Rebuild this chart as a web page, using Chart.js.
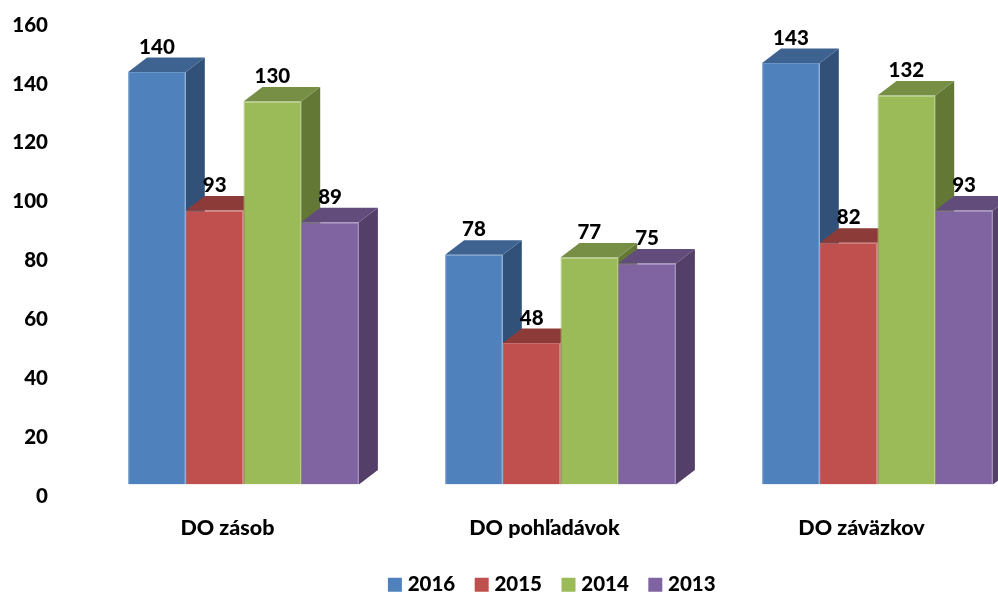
<!DOCTYPE html>
<html>
<head>
<meta charset="utf-8">
<title>DO</title>
<script src="https://cdn.jsdelivr.net/npm/chart.js@4"></script>
<style>
    html, body { margin: 0; padding: 0; background: #fff; overflow: hidden; width: 998px; height: 592px; }
    canvas { display: block; }
</style>
</head>
<body>
<canvas id="myChart" width="1108" height="605"></canvas>
<script>
const categories = ['DO zásob', 'DO pohľadávok', 'DO záväzkov'];
const seriesNames = ['2016', '2015', '2014', '2013'];
const values2016 = [140, 78, 143];
const values2015 = [93, 48, 82];
const values2014 = [130, 77, 132];
const values2013 = [89, 75, 93];
const tickStep = 20;
const tickMax = 160;

const frontColors = ['#4F81BD', '#C0504D', '#9BBB59', '#8064A2'];
const edgeColors = ['#6A95C9', '#CB6E6B', '#ABC774', '#9179B0'];
const topColors = ['#3E6390', '#8D3B39', '#778F45', '#624C7C'];
const sideColors = ['#325179', '#773130', '#647835', '#543F68'];

const FONT = { family: 'Lato, "Open Sans", sans-serif', size: 20.5, weight: '900' };
const DEPTH_X = 19;
const DEPTH_Y = 14.5;

// fake 3D: side and top faces go under the bars, left to right
const depthFaces = {
    id: 'depthFaces',
    beforeDatasetsDraw(chart) {
        const ctx = chart.ctx;
        const bars = [];
        chart.data.datasets.forEach((d, i) => {
            chart.getDatasetMeta(i).data.forEach(bar => bars.push({ bar, i }));
        });
        bars.sort((a, b) => a.bar.x - b.bar.x);
        bars.forEach(({ bar, i }) => {
            const left = bar.x - bar.width / 2;
            const right = bar.x + bar.width / 2;
            ctx.fillStyle = sideColors[i];
            ctx.beginPath();
            ctx.moveTo(right, bar.y);
            ctx.lineTo(right + DEPTH_X, bar.y - DEPTH_Y);
            ctx.lineTo(right + DEPTH_X, bar.base - DEPTH_Y);
            ctx.lineTo(right, bar.base);
            ctx.closePath();
            ctx.fill();
            ctx.fillStyle = topColors[i];
            ctx.beginPath();
            ctx.moveTo(left, bar.y);
            ctx.lineTo(left + DEPTH_X, bar.y - DEPTH_Y);
            ctx.lineTo(right + DEPTH_X, bar.y - DEPTH_Y);
            ctx.lineTo(right, bar.y);
            ctx.closePath();
            ctx.fill();
        });
    }
};

const valueLabels = {
    id: 'valueLabels',
    afterDatasetsDraw(chart) {
        const ctx = chart.ctx;
        ctx.save();
        ctx.font = `${FONT.weight} ${FONT.size}px ${FONT.family}`;
        ctx.fillStyle = '#000';
        ctx.textAlign = 'center';
        ctx.textBaseline = 'middle';
        chart.data.datasets.forEach((d, i) => {
            chart.getDatasetMeta(i).data.forEach((bar, j) => {
                ctx.fillText(d.data[j], bar.x, bar.y - 25);
            });
        });
        ctx.restore();
    }
};

const seriesValues = [values2016, values2015, values2014, values2013];

new Chart(document.getElementById('myChart').getContext('2d'), {
    type: 'bar',
    data: {
        labels: categories,
        datasets: seriesNames.map((name, i) => ({
            label: name,
            data: seriesValues[i],
            backgroundColor: frontColors[i],
            borderColor: edgeColors[i],
            borderWidth: 1,
            categoryPercentage: 0.728,
            barPercentage: 1
        }))
    },
    options: {
        responsive: false,
        animation: false,
        layout: { padding: { top: 13, left: 0, right: 0, bottom: 0 } },
        scales: {
            x: {
                grid: { display: false, drawTicks: false },
                border: { display: false },
                ticks: { color: '#000', font: { ...FONT, size: 21.5 }, padding: 31, maxRotation: 0, labelOffset: -16 },
                afterFit: scale => { scale.height = 66; }
            },
            y: {
                min: 0,
                max: tickMax,
                grid: { display: false, drawTicks: false },
                border: { display: false },
                ticks: { color: '#000', font: FONT, stepSize: tickStep, padding: 37, labelOffset: 12 },
                afterFit: scale => { scale.width = 85; scale.paddingTop = 0; scale.paddingBottom = 0; }
            },
            // empty axis so the legend centres where the original does
            spare: {
                position: 'right',
                grid: { display: false, drawTicks: false },
                border: { display: false },
                ticks: { display: false },
                afterFit: scale => { scale.width = 72; scale.paddingTop = 0; scale.paddingBottom = 0; }
            }
        },
        plugins: {
            title: { display: false },
            tooltip: { enabled: false },
            legend: {
                position: 'bottom',
                labels: {
                    color: '#000',
                    font: FONT,
                    boxWidth: 5,
                    boxHeight: 5,
                    padding: 24,
                    generateLabels: chart => chart.data.datasets.map((d, i) => ({
                        text: d.label,
                        fillStyle: frontColors[i],
                        strokeStyle: frontColors[i],
                        lineWidth: 9,
                        datasetIndex: i
                    }))
                }
            }
        }
    },
    plugins: [depthFaces, valueLabels]
});
</script>
</body>
</html>
